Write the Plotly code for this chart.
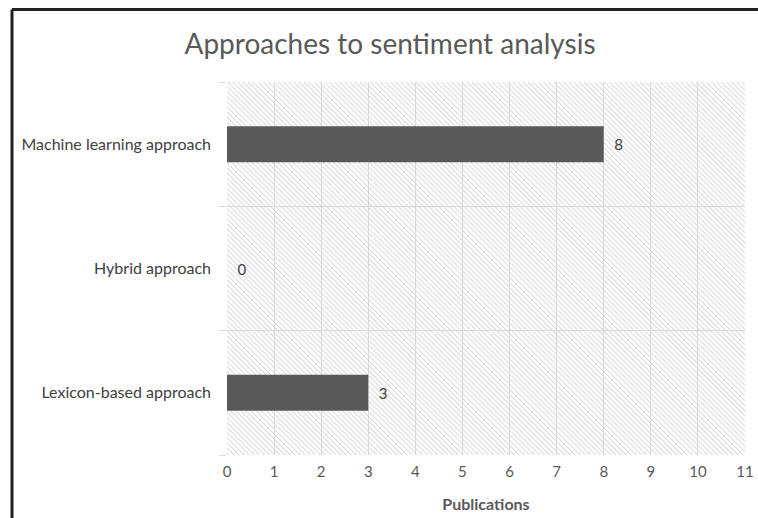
import base64
import plotly.graph_objects as go

# ---- data ----
categories = ["Lexicon-based approach", "Hybrid approach", "Machine learning approach"]
publications = [3, 0, 8]
x_ticks = list(range(0, 12))

title_text = "Approaches to sentiment analysis"
x_title = "Publications"

FONT = "Lato"
W, H = 758, 518
L, R, T, B = 227, 13, 82, 63
pw, ph = W - L - R, H - T - B

# hatch background (diagonal light-gray lines) as an SVG image
svg = f'''<svg xmlns="http://www.w3.org/2000/svg" width="{pw}" height="{ph}" viewBox="0 0 {pw} {ph}">
<defs><pattern id="h" width="3.6" height="10" patternUnits="userSpaceOnUse" patternTransform="rotate(-45)">
<line x1="0.5" y1="0" x2="0.5" y2="10" stroke="#d2d2d2" stroke-width="0.9"/></pattern></defs>
<rect x="0" y="0" width="{pw}" height="{ph}" fill="white"/>
<rect x="0" y="0" width="{pw}" height="{ph}" fill="url(#h)"/></svg>'''
uri = "data:image/svg+xml;base64," + base64.b64encode(svg.encode()).decode()

fig = go.Figure()
fig.add_trace(go.Bar(
    y=categories, x=publications, orientation="h",
    marker=dict(color="#595959", line=dict(width=0)),
    width=0.29,
    text=[f"\u2002{v}" for v in publications],
    textposition="outside",
    textfont=dict(family=FONT, size=15, color="#404040"),
    cliponaxis=False,
    hoverinfo="skip",
))

fig.update_layout(
    width=W, height=H,
    margin=dict(l=L, r=R, t=T, b=B, autoexpand=False),
    paper_bgcolor="white", plot_bgcolor="rgba(0,0,0,0)",
    showlegend=False,
    title=dict(text=title_text, x=390 / W, xref="container", xanchor="center",
               y=1 - 44 / H, yanchor="middle",
               font=dict(family=FONT, size=28, color="#595959")),
    font=dict(family=FONT),
    xaxis=dict(range=[0, 11], tickvals=x_ticks, showgrid=True, gridcolor="#d9d9d9",
               gridwidth=1, zeroline=False, showline=False, ticks="",
               automargin=False, ticklabelstandoff=6,
               tickfont=dict(family=FONT, size=15, color="#595959"),
               title=dict(text=f"<b>{x_title}</b>", standoff=19,
                          font=dict(family=FONT, size=16, color="#595959"))),
    yaxis=dict(type="category", categoryorder="array", categoryarray=categories,
               tickson="boundaries", ticks="outside", ticklen=7, tickcolor="#d9d9d9",
               showgrid=True, gridcolor="#d9d9d9", gridwidth=1, showline=False,
               zeroline=False, ticklabelstandoff=15, automargin=False,
               tickfont=dict(family=FONT, size=16, color="#404040")),
    images=[dict(source=uri, xref="paper", yref="paper", x=0, y=1,
                 sizex=1, sizey=1, xanchor="left", yanchor="top",
                 sizing="stretch", layer="below")],
)

# outer frame (cropped: only left and top edges visible)
fx = (12 - L) / pw
fy = (H - B - 9.5) / ph
fig.add_shape(type="line", xref="paper", yref="paper", x0=fx, x1=fx, y0=fy, y1=-B / ph - 0.05,
              line=dict(color="#222222", width=3))
fig.add_shape(type="line", xref="paper", yref="paper", x0=fx, x1=1 + R / pw + 0.05, y0=fy, y1=fy,
              line=dict(color="#222222", width=3))

fig.write_html("out.html", config={"displayModeBar": False},
               post_script="document.body.style.margin='0';document.body.style.padding='0';")
